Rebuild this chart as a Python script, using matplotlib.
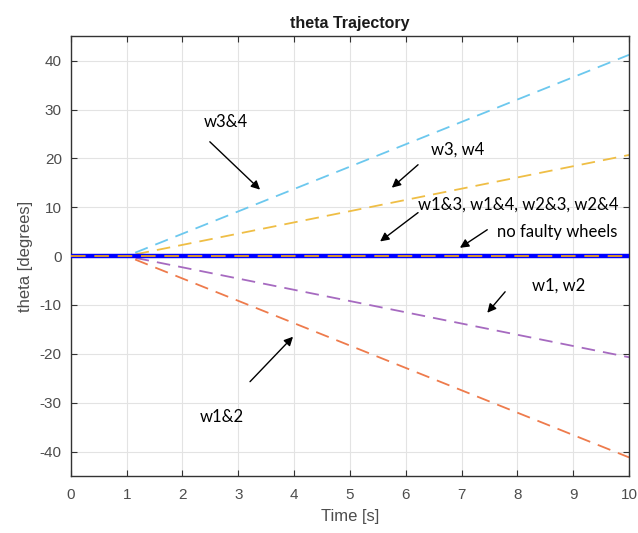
import matplotlib.pyplot as plt

plt.rcParams['font.family'] = ['Liberation Sans', 'DejaVu Sans']
plt.rcParams['axes.unicode_minus'] = False

# time points and theta values (degrees) for each fault case
t = [0, 1, 10]
theta_none = [0, 0, 0]
theta_w13 = [0, 0, 0]      # w1&3, w1&4, w2&3, w2&4
theta_w34 = [0, 0, 41.2]
theta_w3 = [0, 0, 20.7]
theta_w1 = [0, 0, -20.7]
theta_w12 = [0, 0, -41.2]

fig = plt.figure(figsize=(6.38, 5.33), dpi=100)
ax = fig.add_axes([0.111, 0.107, 0.875, 0.825])

dash = (7.5, 4.5)
ax.plot(t, theta_none, color='#0000FF', lw=3.2, zorder=3)
ax.plot(t, theta_w34, '--', color='#6CC8EE', lw=1.3, dashes=dash)
ax.plot(t, theta_w3, '--', color='#EFBE45', lw=1.3, dashes=dash)
ax.plot(t, theta_w1, '--', color='#A66AC0', lw=1.3, dashes=dash)
ax.plot(t, theta_w12, '--', color='#EE7B4C', lw=1.3, dashes=dash)
ax.plot(t, theta_w13, '--', color='#D9952E', lw=1.4, dashes=dash, zorder=4)

ax.set_xlim(0, 10)
ax.set_ylim(-45, 45)
ax.set_xticks(range(0, 11))
ax.set_yticks(range(-40, 41, 10))
ax.grid(True, color='#E3E3E3', lw=0.8)
ax.set_axisbelow(True)
ax.tick_params(direction='in', top=True, right=True, labelsize=11,
               labelcolor='#4D4D4D', color='#333333', length=4)
ax.tick_params(axis='x', pad=9)
ax.tick_params(axis='y', pad=6.5)
for s in ax.spines.values():
    s.set_color('#333333')
    s.set_linewidth(1.0)

ax.set_title('theta Trajectory', fontsize=11.5, fontweight='bold', color='#1A1A1A', pad=6)
ax.set_xlabel('Time [s]', fontsize=12, color='#4D4D4D', labelpad=5)
ax.set_ylabel('theta [degrees]', fontsize=12, color='#4D4D4D', labelpad=5)

arrow = dict(arrowstyle='-|>', color='k', lw=1, mutation_scale=13, shrinkA=0, shrinkB=0)
fnt = dict(fontsize=12, family='Lato', color='k')

ax.annotate('', xy=(3.39, 13.6), xytext=(2.49, 23.4), arrowprops=arrow)
ax.text(2.78, 27.5, 'w3&4', ha='center', va='center', **fnt)

ax.annotate('', xy=(5.75, 14.0), xytext=(6.22, 18.7), arrowprops=arrow)
ax.text(6.45, 21.8, 'w3, w4', ha='left', va='center', **fnt)

ax.annotate('', xy=(5.54, 3.0), xytext=(6.22, 8.9), arrowprops=arrow)
ax.text(6.22, 10.6, 'w1&3, w1&4, w2&3, w2&4', ha='left', va='center', **fnt)

ax.annotate('', xy=(6.97, 1.7), xytext=(7.46, 5.4), arrowprops=arrow)
ax.text(7.63, 5.0, 'no faulty wheels', ha='left', va='center', **fnt)

ax.annotate('', xy=(7.46, -11.6), xytext=(7.78, -7.3), arrowprops=arrow)
ax.text(8.26, -6.0, 'w1, w2', ha='left', va='center', **fnt)

ax.annotate('', xy=(3.98, -16.5), xytext=(3.21, -25.7), arrowprops=arrow)
ax.text(2.71, -33.0, 'w1&2', ha='center', va='center', **fnt)

fig.savefig('out.png', dpi=100)
